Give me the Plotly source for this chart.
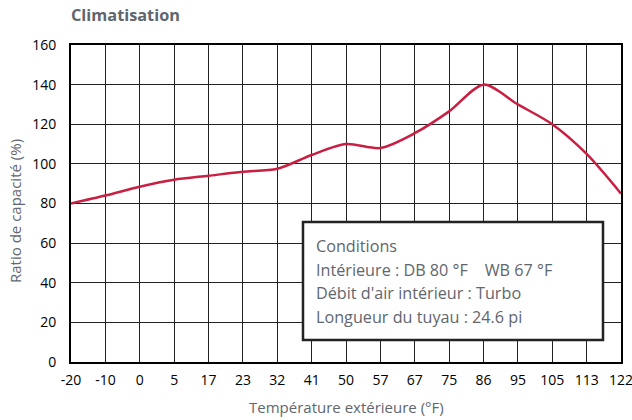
import plotly.graph_objects as go

temps = ["-20", "-10", "0", "5", "17", "23", "32", "41", "50", "57", "67", "75", "86", "95", "105", "113", "122"]
capacity = [80, 84, 88.5, 92, 94, 96, 97.5, 104.5, 110, 108, 115.5, 126.5, 140, 130, 120, 105, 85]
y_ticks = [0, 20, 40, 60, 80, 100, 120, 140, 160]
cond_lines = ["Conditions",
              "Intérieure : DB 80 °F    WB 67 °F",
              "Débit d'air intérieur : Turbo",
              "Longueur du tuyau : 24.6 pi"]

FONT = "Open Sans"
GRAY = "#5f666d"

fig = go.Figure()
fig.add_trace(go.Scatter(
    x=temps, y=capacity, mode="lines",
    line=dict(color="#c91f43", width=2.5, shape="spline", smoothing=0.8),
    hoverinfo="skip", showlegend=False, cliponaxis=False))

L, R, T, B = 71, 11, 45, 58
W = 632 - L - R
H = 420 - T - B

fig.update_layout(
    width=632, height=420,
    margin=dict(l=L, r=R, t=T, b=B, autoexpand=False),
    paper_bgcolor="white", plot_bgcolor="white",
    font=dict(family=FONT, color="black", size=14),
    xaxis=dict(type="category", range=[0, 16], showgrid=True, gridcolor="#222", gridwidth=1,
               showline=True, linecolor="black", linewidth=2, mirror=True,
               ticks="", tickfont=dict(size=14, color="black"), ticklabelstandoff=4,
               automargin=False, fixedrange=True),
    yaxis=dict(range=[0, 160], tickvals=y_ticks, showgrid=True, gridcolor="#222", gridwidth=1,
               showline=True, linecolor="black", linewidth=2, mirror=True, zeroline=False,
               ticks="", tickfont=dict(size=14, color="black"), ticklabelstandoff=10,
               automargin=False, fixedrange=True),
)

def px_x(p):
    return (p - L) / W

def px_y(p):
    return (420 - B - p) / H

# Title
fig.add_annotation(text="<b>Climatisation</b>", xref="paper", yref="paper",
                   x=px_x(69), y=px_y(15), xanchor="left", yanchor="middle",
                   showarrow=False, font=dict(size=16.3, color=GRAY, family=FONT))

# Axis titles
fig.add_annotation(text="Température extérieure (°F)", xref="paper", yref="paper",
                   x=0.5, y=px_y(407), xanchor="center", yanchor="middle",
                   showarrow=False, font=dict(size=15, color=GRAY, family=FONT))
fig.add_annotation(text="Ratio de capacité (%)", xref="paper", yref="paper",
                   x=px_x(15), y=px_y(211), xanchor="center", yanchor="middle", textangle=-90,
                   showarrow=False, font=dict(size=15, color=GRAY, family=FONT))

# Conditions box
fig.add_shape(type="rect", xref="paper", yref="paper",
              x0=px_x(303), x1=px_x(603), y0=px_y(340), y1=px_y(222),
              fillcolor="white", line=dict(color="#222", width=2.5), layer="above")
for i, txt in enumerate(cond_lines):
    fig.add_annotation(text=txt, xref="paper", yref="paper",
                       x=px_x(314), y=px_y(246 + i * 23.7), xanchor="left", yanchor="middle",
                       showarrow=False, font=dict(size=16.2, color=GRAY, family=FONT))

fig.write_html("out.html", post_script="document.body.style.margin='0';",
               config={"displayModeBar": False})
